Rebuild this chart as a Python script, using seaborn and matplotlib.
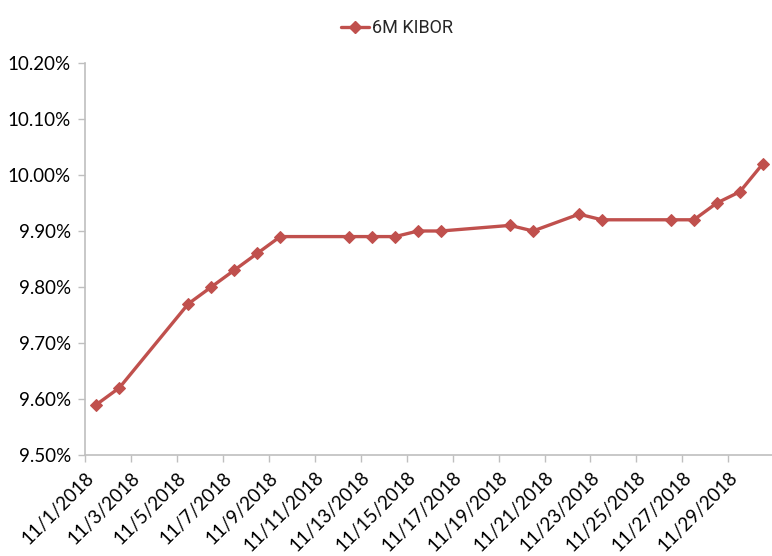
import matplotlib
matplotlib.use("Agg")
import matplotlib.pyplot as plt
import seaborn as sns
import pandas as pd
from matplotlib.lines import Line2D

dates = ["2018-11-01", "2018-11-02", "2018-11-05", "2018-11-06", "2018-11-07",
         "2018-11-08", "2018-11-09", "2018-11-12", "2018-11-13", "2018-11-14",
         "2018-11-15", "2018-11-16", "2018-11-19", "2018-11-20", "2018-11-22",
         "2018-11-23", "2018-11-26", "2018-11-27", "2018-11-28", "2018-11-29",
         "2018-11-30"]
kibor_6m = [9.59, 9.62, 9.77, 9.80, 9.83, 9.86, 9.89, 9.89, 9.89, 9.89,
            9.90, 9.90, 9.91, 9.90, 9.93, 9.92, 9.92, 9.92, 9.95, 9.97, 10.02]
y_ticks = [9.50, 9.60, 9.70, 9.80, 9.90, 10.00, 10.10, 10.20]
x_tick_dates = ["2018-11-01", "2018-11-03", "2018-11-05", "2018-11-07", "2018-11-09",
                "2018-11-11", "2018-11-13", "2018-11-15", "2018-11-17", "2018-11-19",
                "2018-11-21", "2018-11-23", "2018-11-25", "2018-11-27", "2018-11-29"]
x_tick_labels = ["11/1/2018", "11/3/2018", "11/5/2018", "11/7/2018", "11/9/2018",
                 "11/11/2018", "11/13/2018", "11/15/2018", "11/17/2018", "11/19/2018",
                 "11/21/2018", "11/23/2018", "11/25/2018", "11/27/2018", "11/29/2018"]
series_name = "6M KIBOR"

sns.set_style("white")
plt.rcParams['font.family'] = ['Lato', 'DejaVu Sans']

color = "#C0504D"
df = pd.DataFrame({
    "date": pd.to_datetime(dates) + pd.Timedelta(hours=12),
    "value": kibor_6m,
})

fig = plt.figure(figsize=(7.72, 5.56), dpi=100)
ax = fig.add_axes([0.110, 0.1817, 0.893, 0.705])

sns.lineplot(data=df, x="date", y="value", ax=ax, color=color, linewidth=2.4,
             marker="D", markersize=6, markeredgecolor=color, markerfacecolor=color)

ax.set_xlim(pd.Timestamp("2018-11-01"), pd.Timestamp("2018-12-01"))
ax.set_ylim(9.50, 10.20)
ax.set_yticks(y_ticks)
ax.set_yticklabels([f"{v:.2f}%" for v in y_ticks], fontsize=13.5)
ax.set_xticks(pd.to_datetime(x_tick_dates))
ax.set_xticklabels(x_tick_labels, rotation=45, ha="right", rotation_mode="anchor",
                   fontsize=13.5)
ax.set_xlabel("")
ax.set_ylabel("")

for s in ["top", "right"]:
    ax.spines[s].set_visible(False)
for s in ["left", "bottom"]:
    ax.spines[s].set_color("#BFBFBF")
    ax.spines[s].set_linewidth(1.2)
ax.tick_params(axis="both", which="both", direction="out", length=5, width=1,
               color="#BFBFBF", labelcolor="black", left=True, bottom=True, pad=5)
ax.grid(False)
if ax.get_legend() is not None:
    ax.get_legend().remove()

handle = Line2D([0], [0], color=color, linewidth=2.4, marker="D", markersize=6)
leg = fig.legend([handle], [series_name], loc="upper center",
                 bbox_to_anchor=(0.514, 0.995), frameon=False, handlelength=1.6,
                 handletextpad=0.15,
                 prop={"family": ["Liberation Sans Narrow", "Roboto", "DejaVu Sans"],
                       "size": 13})

fig.savefig("out.png", dpi=100)
